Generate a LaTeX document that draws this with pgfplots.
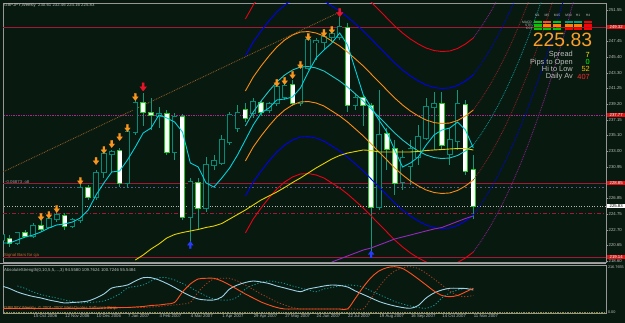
\documentclass[border=0pt]{standalone}
\usepackage{fontspec}
\setmainfont{Liberation Sans}
\usepackage{pgfplots}
\pgfplotsset{compat=1.18}
\usepackage{pgfplotstable}

\definecolor{bg}{RGB}{8,26,16}
\definecolor{frame}{RGB}{150,150,150}
\definecolor{bullc}{RGB}{0,140,120}
\definecolor{bearc}{RGB}{40,200,40}
\definecolor{wickc}{RGB}{20,150,120}
\definecolor{macyan}{RGB}{0,210,220}
\definecolor{ctrcyan}{RGB}{30,200,200}
\definecolor{bandred}{RGB}{235,0,20}
\definecolor{bandblue}{RGB}{0,0,235}
\definecolor{bandor}{RGB}{250,140,20}
\definecolor{yel}{RGB}{230,210,0}
\definecolor{purp}{RGB}{150,40,190}
\definecolor{hred}{RGB}{160,25,55}
\definecolor{hmag}{RGB}{170,40,140}
\definecolor{hblue}{RGB}{90,90,150}
\definecolor{arror}{RGB}{250,150,30}
\definecolor{arrred}{RGB}{230,20,40}
\definecolor{arrblue}{RGB}{40,60,255}
\definecolor{txtgray}{RGB}{190,190,190}
\definecolor{lblue}{RGB}{160,210,230}
\definecolor{ored}{RGB}{255,80,30}
\definecolor{sigteal}{RGB}{20,150,150}
\definecolor{sigred}{RGB}{170,60,30}
\definecolor{trendc}{RGB}{150,95,40}
\definecolor{fdred}{RGB}{150,30,40}
\definecolor{fdmag}{RGB}{150,30,150}
\definecolor{boxred}{RGB}{220,20,20}
\definecolor{bigor}{RGB}{250,160,40}
\definecolor{sigtxt}{RGB}{200,100,50}
\definecolor{mqtxt}{RGB}{230,120,60}
\definecolor{zeroc}{RGB}{140,140,40}
\definecolor{valyel}{RGB}{240,190,0}
\definecolor{valred}{RGB}{255,40,40}
\definecolor{cgreen}{RGB}{0,200,0}
\definecolor{cteal}{RGB}{0,160,120}

\pgfdeclareplotmark{dnarrow}{%
  \pgfpathmoveto{\pgfqpoint{-0.28\pgfplotmarksize}{\pgfplotmarksize}}%
  \pgfpathlineto{\pgfqpoint{0.28\pgfplotmarksize}{\pgfplotmarksize}}%
  \pgfpathlineto{\pgfqpoint{0.28\pgfplotmarksize}{0.05\pgfplotmarksize}}%
  \pgfpathlineto{\pgfqpoint{0.8\pgfplotmarksize}{0.05\pgfplotmarksize}}%
  \pgfpathlineto{\pgfqpoint{0pt}{-\pgfplotmarksize}}%
  \pgfpathlineto{\pgfqpoint{-0.8\pgfplotmarksize}{0.05\pgfplotmarksize}}%
  \pgfpathlineto{\pgfqpoint{-0.28\pgfplotmarksize}{0.05\pgfplotmarksize}}%
  \pgfpathclose
  \pgfusepathqfillstroke
}
\pgfdeclareplotmark{uparrow}{%
  \pgfpathmoveto{\pgfqpoint{-0.28\pgfplotmarksize}{-\pgfplotmarksize}}%
  \pgfpathlineto{\pgfqpoint{0.28\pgfplotmarksize}{-\pgfplotmarksize}}%
  \pgfpathlineto{\pgfqpoint{0.28\pgfplotmarksize}{-0.05\pgfplotmarksize}}%
  \pgfpathlineto{\pgfqpoint{0.8\pgfplotmarksize}{-0.05\pgfplotmarksize}}%
  \pgfpathlineto{\pgfqpoint{0pt}{\pgfplotmarksize}}%
  \pgfpathlineto{\pgfqpoint{-0.8\pgfplotmarksize}{-0.05\pgfplotmarksize}}%
  \pgfpathlineto{\pgfqpoint{-0.28\pgfplotmarksize}{-0.05\pgfplotmarksize}}%
  \pgfpathclose
  \pgfusepathqfillstroke
}

\newcommand\sm{\fontsize{4.3}{5}\selectfont}
\newcommand\xs{\fontsize{3.3}{4}\selectfont}

% weekly candles: dark bodies (close above open)
\pgfplotstableread{
i O H L C
0 221.37 222.29 221.24 222.02
2 220.97 222.42 220.71 222.29
4 221.89 223.60 221.63 223.20
6 223.07 224.65 222.94 224.12
7 224.12 225.04 223.73 224.65
9 223.20 224.25 222.94 223.99
10 223.99 228.58 223.60 228.19
12 227.01 230.55 226.62 230.16
13 230.29 232.92 229.50 232.65
14 232.65 233.18 230.29 232.92
16 228.85 236.06 228.19 235.54
17 235.54 239.74 235.15 239.35
20 237.64 238.82 236.06 237.90
22 232.92 238.03 231.87 237.51
24 224.39 229.50 221.10 228.98
26 225.57 232.26 225.04 231.21
27 231.21 232.52 230.55 231.73
28 231.47 235.15 231.21 234.49
29 234.23 238.16 233.83 237.77
30 236.06 239.08 235.54 238.03
32 238.03 240.00 237.38 239.48
34 238.43 239.48 238.03 239.21
35 239.35 241.71 238.95 241.45
36 240.13 242.10 239.74 241.58
38 239.35 244.20 238.95 243.94
39 243.94 247.88 243.68 247.61
40 247.28 247.88 244.99 247.48
41 247.35 248.27 246.30 248.01
42 248.01 248.93 247.35 248.40
43 248.01 250.63 247.61 249.32
45 239.08 240.53 238.43 240.00
48 225.70 241.05 225.30 235.15
51 228.98 233.18 227.93 232.13
52 231.08 234.49 228.58 233.31
53 232.26 236.46 231.21 234.88
54 234.75 240.00 234.49 238.82
55 238.82 240.79 233.18 239.21
57 232.65 236.06 231.21 234.49
58 234.36 241.05 233.18 239.21
}\bull
% white bodies (close below open)
\pgfplotstableread{
i O H L C
1 221.50 222.02 220.45 220.97
3 222.29 222.68 221.76 221.89
5 223.20 223.99 222.42 222.81
8 224.52 224.91 222.68 223.20
11 228.19 228.58 226.62 227.01
15 233.05 233.44 228.32 228.85
18 239.35 240.66 236.33 238.16
19 238.03 240.00 235.80 237.77
21 237.90 238.43 232.52 232.92
23 237.51 237.90 223.99 224.39
25 228.85 229.50 222.68 225.57
31 238.43 239.35 236.85 237.38
33 239.35 239.74 237.64 238.16
37 241.71 242.36 238.95 239.35
44 249.19 249.84 238.16 239.08
46 240.00 240.40 236.33 239.08
47 238.95 239.35 219.27 225.70
49 235.28 236.06 230.55 233.31
50 233.31 234.49 227.27 228.85
56 239.21 240.79 233.18 233.83
59 239.08 239.74 229.90 230.42
60 230.61 232.46 224.16 225.83
}\bear

\pgfplotstableread{
i y
0 220.97
1 220.97
2 221.37
3 221.76
4 222.02
5 222.42
6 222.94
7 223.34
8 223.47
9 223.73
10 224.25
11 225.30
12 227.27
13 228.85
14 230.29
15 230.42
16 231.87
17 233.57
18 235.41
19 236.06
20 237.77
21 237.38
22 236.85
23 235.54
24 231.47
25 230.95
26 228.85
27 228.32
28 229.50
29 230.82
30 232.52
31 234.49
32 236.46
33 238.03
34 238.69
35 239.74
36 239.87
37 240.13
38 241.31
39 243.41
40 245.25
41 246.30
42 247.22
43 248.53
44 246.96
45 243.68
46 240.40
47 238.82
48 237.11
49 235.54
50 233.18
51 230.95
52 231.47
53 232.26
54 233.83
55 235.15
56 235.80
57 236.06
58 236.85
59 235.80
60 233.44
}\fastma

\pgfplotstableread{
i rU bU oU c oL bL rL
31 250.37 245.52 240.92 236.33 231.74 227.14 222.29
32 252.20 247.35 242.75 238.16 233.57 228.97 224.12
33 253.65 248.80 244.20 239.61 235.02 230.42 225.57
34 254.96 250.11 245.51 240.92 236.33 231.73 226.88
35 256.14 251.29 246.69 242.10 237.51 232.91 228.06
36 257.06 252.21 247.61 243.02 238.43 233.83 228.98
37 257.72 252.87 248.27 243.68 239.09 234.49 229.64
38 258.11 253.26 248.66 244.07 239.48 234.88 230.03
39 258.17 253.32 248.72 244.13 239.54 234.94 230.09
40 257.98 253.13 248.53 243.94 239.35 234.75 229.90
41 257.58 252.73 248.13 243.54 238.95 234.35 229.50
42 256.93 252.08 247.48 242.89 238.30 233.70 228.85
43 256.27 251.42 246.82 242.23 237.64 233.04 228.19
44 255.48 250.63 246.03 241.44 236.85 232.25 227.40
45 254.57 249.72 245.12 240.53 235.94 231.34 226.49
46 253.65 248.80 244.20 239.61 235.02 230.42 225.57
47 252.60 247.75 243.15 238.56 233.97 229.37 224.52
48 251.55 246.70 242.10 237.51 232.92 228.32 223.47
49 250.50 245.65 241.05 236.46 231.87 227.27 222.42
50 249.45 244.60 240.00 235.41 230.82 226.22 221.37
51 248.53 243.68 239.08 234.49 229.90 225.30 220.45
52 247.74 242.89 238.29 233.70 229.11 224.51 219.66
53 247.09 242.24 237.64 233.05 228.46 223.86 219.01
54 246.56 241.71 237.11 232.52 227.93 223.33 218.48
55 246.23 241.38 236.78 232.19 227.60 223.00 218.15
56 246.10 241.25 236.65 232.06 227.47 222.87 218.02
57 246.17 241.32 236.72 232.13 227.54 222.94 218.09
58 246.50 241.65 237.05 232.46 227.87 223.27 218.42
59 247.09 242.24 237.64 233.05 228.46 223.86 219.01
60 247.87 243.02 238.42 233.83 229.24 224.64 219.79
}\bands

\pgfplotstableread{
i rU bU oU c oL bL rL
60 247.87 243.02 238.42 233.83 229.24 224.64 219.79
61 249.31 244.46 239.86 235.27 230.68 226.08 221.23
62 250.94 246.09 241.49 236.90 232.31 227.71 222.86
63 252.78 247.93 243.33 238.74 234.15 229.55 224.70
64 254.79 249.94 245.34 240.75 236.16 231.56 226.71
65 257.00 252.15 247.55 242.96 238.37 233.77 228.92
66 259.42 254.57 249.97 245.38 240.79 236.19 231.34
67 262.02 257.17 252.57 247.98 243.39 238.79 233.94
68 264.84 259.99 255.39 250.80 246.21 241.61 236.76
69 267.80 262.95 258.35 253.76 249.17 244.57 239.72
70 271.01 266.16 261.56 256.97 252.38 247.78 242.93
71 274.42 269.57 264.97 260.38 255.79 251.19 246.34
72 277.96 273.11 268.51 263.92 259.33 254.73 249.88
73 281.75 276.90 272.30 267.71 263.12 258.52 253.67
}\future

\pgfplotstableread{
i y
17 218.74
18 219.40
19 220.19
20 220.84
21 221.63
22 222.09
23 222.35
24 222.55
25 222.75
26 223.01
27 223.20
28 223.53
29 224.12
30 224.71
31 225.30
32 225.96
33 226.62
34 227.14
35 227.67
36 228.26
37 228.91
38 229.50
39 230.16
40 230.82
41 231.41
42 232.00
43 232.46
44 232.78
45 232.98
46 233.18
47 233.11
48 232.92
49 232.92
50 232.92
51 232.92
52 232.92
53 232.98
54 233.11
55 233.18
56 233.24
57 233.31
58 233.37
59 233.37
60 233.18
}\yline

\pgfplotstableread{
i y
42 218.48
43 218.87
44 219.27
45 219.66
46 220.05
47 220.32
48 220.71
49 221.10
50 221.50
51 221.76
52 222.02
53 222.29
54 222.55
55 222.81
56 223.01
57 223.40
58 223.80
59 224.19
60 224.52
}\pline

\pgfplotstableread{
i y
5 224.39
6 224.65
7 225.44
10 229.11
12 231.73
13 233.18
14 233.96
15 234.88
16 236.06
17 240.13
35 241.97
36 242.23
37 243.02
38 244.33
39 248.01
41 248.53
42 248.93
}\orarr
\pgfplotstableread{
i y
18 241.45
43 251.20
}\rdarr
\pgfplotstableread{
i y
24 220.71
47 219.50
}\blarr

\pgfplotstableread{
i blue red
0 124.4 16.7
1 112.4 16.7
2 95.7 16.7
3 83.7 16.7
4 74.2 16.7
5 67.0 16.7
6 57.4 16.7
7 50.2 16.7
8 43.1 16.7
9 45.5 16.7
10 47.9 16.7
11 52.6 16.7
12 67.0 16.7
13 86.1 19.1
14 114.8 21.5
15 122.0 21.5
16 129.2 21.5
17 148.3 23.9
18 164.1 26.3
19 164.1 31.1
20 153.1 33.5
21 136.4 38.3
22 117.2 45.5
23 95.7 95.7
24 76.6 134.0
25 62.2 157.9
26 57.4 161.3
27 57.4 161.3
28 71.8 148.3
29 110.1 129.2
30 129.2 107.7
31 141.2 86.1
32 148.3 67.0
33 143.6 47.9
34 136.4 33.5
35 124.4 21.5
36 114.8 14.4
37 105.3 14.4
38 97.1 14.4
39 110.1 14.4
40 117.2 14.4
41 124.4 14.4
42 129.2 14.4
43 126.8 14.4
44 119.6 14.4
45 100.5 65.6
46 83.7 119.6
47 67.0 165.1
48 50.2 196.2
49 38.3 212.0
50 28.7 216.8
51 21.5 208.1
52 17.7 185.2
53 31.1 157.9
54 67.0 129.2
55 90.9 100.5
56 105.3 79.0
57 113.4 73.2
58 113.4 79.0
59 112.4 95.7
60 105.3 113.4
}\strength

\pgfplotstableread{
i bs rs
2 124.4 16.7
3 112.4 16.7
4 95.7 16.7
5 83.7 16.7
6 74.2 16.7
7 67.0 16.7
8 57.4 16.7
9 50.2 16.7
10 43.1 16.7
11 45.5 16.7
12 47.9 16.7
13 52.6 16.7
14 67.0 16.7
15 86.1 19.1
16 114.8 21.5
17 122.0 21.5
18 129.2 21.5
19 148.3 23.9
20 164.1 26.3
21 164.1 31.1
22 153.1 33.5
23 136.4 38.3
24 117.2 45.5
25 95.7 95.7
26 76.6 134.0
27 62.2 157.9
28 57.4 161.3
29 57.4 161.3
30 71.8 148.3
31 110.1 129.2
32 129.2 107.7
33 141.2 86.1
34 148.3 67.0
35 143.6 47.9
36 136.4 33.5
37 124.4 21.5
38 114.8 14.4
39 105.3 14.4
40 97.1 14.4
41 110.1 14.4
42 117.2 14.4
43 124.4 14.4
44 129.2 14.4
45 126.8 14.4
46 119.6 14.4
47 100.5 65.6
48 83.7 119.6
49 67.0 165.1
50 50.2 196.2
51 38.3 212.0
52 28.7 216.8
53 21.5 208.1
54 17.7 185.2
55 31.1 157.9
56 67.0 129.2
57 90.9 100.5
58 105.3 79.0
59 113.4 73.2
60 113.4 79.0
}\sig

\pgfplotsset{
  barpart/.style 2 args={draw=none, mark=none, forget plot,
    error bars/.cd, y dir=plus, y explicit, error mark=none,
    error bar style={line width=#1, draw=#2, solid}},
}

\begin{document}
\begin{tikzpicture}[x=1pt,y=1pt]
\useasboundingbox (0,0) rectangle (625,323);
\fill[bg] (0,0) rectangle (625,323);

\begin{axis}[
  at={(3pt,61pt)}, anchor=south west,
  width=603pt, height=259pt, scale only axis,
  xmin=0.165, xmax=76.88, ymin=218.48, ymax=252.47,
  axis line style={draw=frame, line width=0.6pt},
  xtick=\empty,
  ytick={251.55,247.45,245.40,243.30,241.25,239.20,237.15,235.10,233.00,230.95,226.85,224.75,222.70,220.65,218.60},
  yticklabels={251.55,247.45,245.40,243.30,241.25,239.20,237.15,235.10,233.00,230.95,226.85,224.75,222.70,220.65,218.60},
  ytick pos=right, yticklabel pos=right,
  tick align=outside, major tick length=1.5pt,
  tick style={draw=frame, line width=0.4pt},
  yticklabel style={font=\sm, text=txtgray, inner sep=1pt},
]
% horizontal levels
\addplot[hred, line width=0.7pt] coordinates {(-1,249.32) (80,249.32)};
\addplot[hmag, line width=0.7pt, densely dotted] coordinates {(-1,237.77) (80,237.77)};
\addplot[hred, line width=0.7pt] coordinates {(-1,228.85) (80,228.85)};
\addplot[hblue, line width=0.7pt, dash pattern=on 2pt off 2.5pt on 0.6pt off 2.5pt] coordinates {(-1,228.32) (80,228.32)};
\addplot[frame!70, line width=0.6pt, dotted] coordinates {(-1,225.83) (80,225.83)};
\addplot[hred, line width=0.7pt, dash pattern=on 4pt off 2pt on 1pt off 2pt] coordinates {(-1,224.91) (80,224.91)};
\addplot[hred, line width=0.7pt] coordinates {(-1,219.14) (80,219.14)};
% trend line
\addplot[trendc, line width=0.8pt, densely dotted] coordinates {(0,230.22) (43,251.29)};

% wicks
\addplot[barpart={0.8pt}{wickc}] table[x=i, y=L, y error expr=\thisrow{H}-\thisrow{L}] {\bull};
\addplot[barpart={0.8pt}{wickc}] table[x=i, y=L, y error expr=\thisrow{H}-\thisrow{L}] {\bear};
% bodies: outline then fill
\addplot[barpart={5.6pt}{bullc}]
  table[x=i, y expr=\thisrow{O}-0.09, y error expr=\thisrow{C}-\thisrow{O}+0.18] {\bull};
\addplot[barpart={4.0pt}{bg}]
  table[x=i, y=O, y error expr=\thisrow{C}-\thisrow{O}] {\bull};
\addplot[barpart={5.6pt}{bearc}]
  table[x=i, y expr=\thisrow{C}-0.09, y error expr=\thisrow{O}-\thisrow{C}+0.18] {\bear};
\addplot[barpart={4.0pt}{white}]
  table[x=i, y=C, y error expr=\thisrow{O}-\thisrow{C}] {\bear};

% regression channel
\addplot[bandred, line width=0.9pt] table[x=i, y=rU] {\bands};
\addplot[bandblue, line width=0.9pt] table[x=i, y=bU] {\bands};
\addplot[bandor, line width=0.9pt] table[x=i, y=oU] {\bands};
\addplot[ctrcyan, line width=0.9pt] table[x=i, y=c] {\bands};
\addplot[bandor, line width=0.9pt] table[x=i, y=oL] {\bands};
\addplot[bandblue, line width=0.9pt] table[x=i, y=bL] {\bands};
\addplot[bandred, line width=0.9pt] table[x=i, y=rL] {\bands};
% projections
\addplot[fdmag, line width=0.8pt, densely dotted] table[x=i, y=rU] {\future};
\addplot[bandblue, line width=0.8pt, densely dotted] table[x=i, y=bU] {\future};
\addplot[fdred, line width=0.8pt, densely dotted] table[x=i, y=oU] {\future};
\addplot[sigteal, line width=0.8pt, densely dotted] table[x=i, y=c] {\future};
\addplot[fdred, line width=0.8pt, densely dotted] table[x=i, y=oL] {\future};
\addplot[bandblue, line width=0.8pt, densely dotted] table[x=i, y=bL] {\future};
\addplot[fdmag, line width=0.8pt, densely dotted] table[x=i, y=rL] {\future};

% moving averages
\addplot[yel, line width=0.9pt] table[x=i, y=y] {\yline};
\addplot[purp, line width=0.9pt] table[x=i, y=y] {\pline};
\addplot[macyan, line width=0.9pt] table[x=i, y=y] {\fastma};

% arrows
\addplot[only marks, mark=dnarrow, mark size=3.6pt, mark options={fill=arror, draw=arror, line width=0.2pt}] table[x=i, y=y] {\orarr};
\addplot[only marks, mark=dnarrow, mark size=4.2pt, mark options={fill=arrred, draw=arrred, line width=0.2pt}] table[x=i, y=y] {\rdarr};
\addplot[only marks, mark=uparrow, mark size=3.6pt, mark options={fill=arrblue, draw=arrblue, line width=0.2pt}] table[x=i, y=y] {\blarr};
\end{axis}

\begin{axis}[
  at={(3pt,10pt)}, anchor=south west,
  width=603pt, height=48pt, scale only axis,
  xmin=0.165, xmax=76.88, ymin=-4.785, ymax=224.9,
  axis line style={draw=frame, line width=0.6pt},
  xtick={0,4,...,60},
  xticklabels={17 Sep 2006,15 Oct 2006,12 Nov 2006,10 Dec 2006,7 Jan 2007,4 Feb 2007,4 Mar 2007,1 Apr 2007,29 Apr 2007,27 May 2007,24 Jun 2007,22 Jul 2007,19 Aug 2007,16 Sep 2007,14 Oct 2007,11 Nov 2007},
  xtick pos=bottom,
  xticklabel style={font=\sm, text=txtgray, anchor=north west, inner sep=0.4pt},
  ytick={0,216.7655}, yticklabels={0.00,216.7655},
  ytick pos=right, yticklabel pos=right,
  yticklabel style={font=\fontsize{3.8}{4.5}\selectfont, text=txtgray, inner sep=0.6pt},
  tick align=outside, major tick length=1.2pt,
  tick style={draw=frame, line width=0.4pt},
]
\addplot[zeroc, line width=0.7pt, densely dotted] coordinates {(-1,0) (80,0)};
\addplot[sigteal, line width=0.8pt, dash pattern=on 1.2pt off 1.8pt, smooth] table[x=i, y=bs] {\sig};
\addplot[sigred, line width=0.8pt, dash pattern=on 1.2pt off 1.8pt, smooth] table[x=i, y=rs] {\sig};
\addplot[lblue, line width=0.9pt, smooth] table[x=i, y=blue] {\strength};
\addplot[ored, line width=0.9pt, smooth] table[x=i, y=red] {\strength};
\end{axis}

% panel separator
\draw[frame!85, line width=1.8pt] (0,59.5) -- (606,59.5);

% texts
\node[anchor=west, font=\sm, text=txtgray, inner sep=0] at (4,318) {GBPJPY,Weekly\ \ 230.61 232.46 224.16 225.83};
\node[anchor=west, font=\sm, text=sigtxt, inner sep=0] at (4,68) {Signal Bars for cja};
\node[anchor=west, font=\sm, text=frame, inner sep=0] at (5,141) {-0.06873 .o8};
\node[anchor=west, font=\sm, text=txtgray, inner sep=0] at (4,53) {AbsoluteStrength(0,10,5,5,...,3) 94.5580 109.7624 100.7246 55.5484};
\node[anchor=west, font=\sm, text=mqtxt, inner sep=0] at (4,15) {GBPJPY,Weekly\ \ \textcopyright\ 2001-2007 MetaQuotes Software Corp.};

% info panel
\foreach \l/\x in {M1/537.5,M5/547,M15/557,M30/568.5,H1/578,H4/588}
  \node[font=\xs, text=txtgray, inner sep=0] at (\x,307.3) {\l};
\node[anchor=east, font=\xs, text=txtgray, inner sep=0] at (532,301) {MACD};
\node[anchor=east, font=\xs, text=txtgray, inner sep=0] at (532,297.5) {STR};
\node[anchor=east, font=\xs, text=txtgray, inner sep=0] at (532,294.2) {CCI};
\foreach \x/\c in {537.5/cgreen,547/ored,557/cgreen,568.5/cteal,578/cteal,588/red}
  \fill[\c] (\x-4,301-1.2) rectangle (\x+4,301+1.2);
\foreach \x/\c in {537.5/cgreen,547/orange,557/orange,568.5/orange,578/orange,588/red}
  \fill[\c] (\x-4,297.5-1.2) rectangle (\x+4,297.5+1.2);
\foreach \x/\c in {537.5/cgreen,547/cgreen,557/cgreen,568.5/red,578/red,588/red}
  \fill[\c] (\x-4,294.2-1.2) rectangle (\x+4,294.2+1.2);
\node[font=\fontsize{19.3}{20}\selectfont, text=bigor, inner sep=0] at (562.5,283) {225.83};
\node[anchor=east, font=\fontsize{7.4}{8}\selectfont, text=txtgray, inner sep=0] at (573,268) {Spread};
\node[anchor=east, font=\fontsize{7.4}{8}\selectfont, text=txtgray, inner sep=0] at (573,260.7) {Pips to Open};
\node[anchor=east, font=\fontsize{7.4}{8}\selectfont, text=txtgray, inner sep=0] at (573,253.7) {Hi to Low};
\node[anchor=east, font=\fontsize{7.4}{8}\selectfont, text=txtgray, inner sep=0] at (573,246.3) {Daily Av};
\node[anchor=east, font=\fontsize{7.4}{8}\selectfont, text=yellow, inner sep=0] at (590,268) {7};
\node[anchor=east, font=\fontsize{7.4}{8}\selectfont, text=green, inner sep=0] at (590,260.7) {0};
\node[anchor=east, font=\fontsize{7.4}{8}\selectfont, text=valyel, inner sep=0] at (590,253.7) {52};
\node[anchor=east, font=\fontsize{7.4}{8}\selectfont, text=valred, inner sep=0] at (590,246.3) {407};

% price boxes
\node[anchor=west, fill=boxred, text=white, font=\sm, inner sep=0.7pt, minimum width=18pt] at (607,296) {249.32};
\node[anchor=west, fill=boxred, text=white, font=\sm, inner sep=0.7pt, minimum width=18pt] at (607,208) {237.77};
\node[anchor=west, fill=boxred, text=white, font=\sm, inner sep=0.7pt, minimum width=18pt] at (607,140) {228.85};
\node[anchor=west, fill=white, text=black, font=\sm, inner sep=0.7pt, minimum width=18pt] at (607,117) {225.83};
\node[anchor=west, fill=boxred, text=white, font=\sm, inner sep=0.7pt, minimum width=18pt] at (607,66) {219.14};
\end{tikzpicture}
\end{document}
